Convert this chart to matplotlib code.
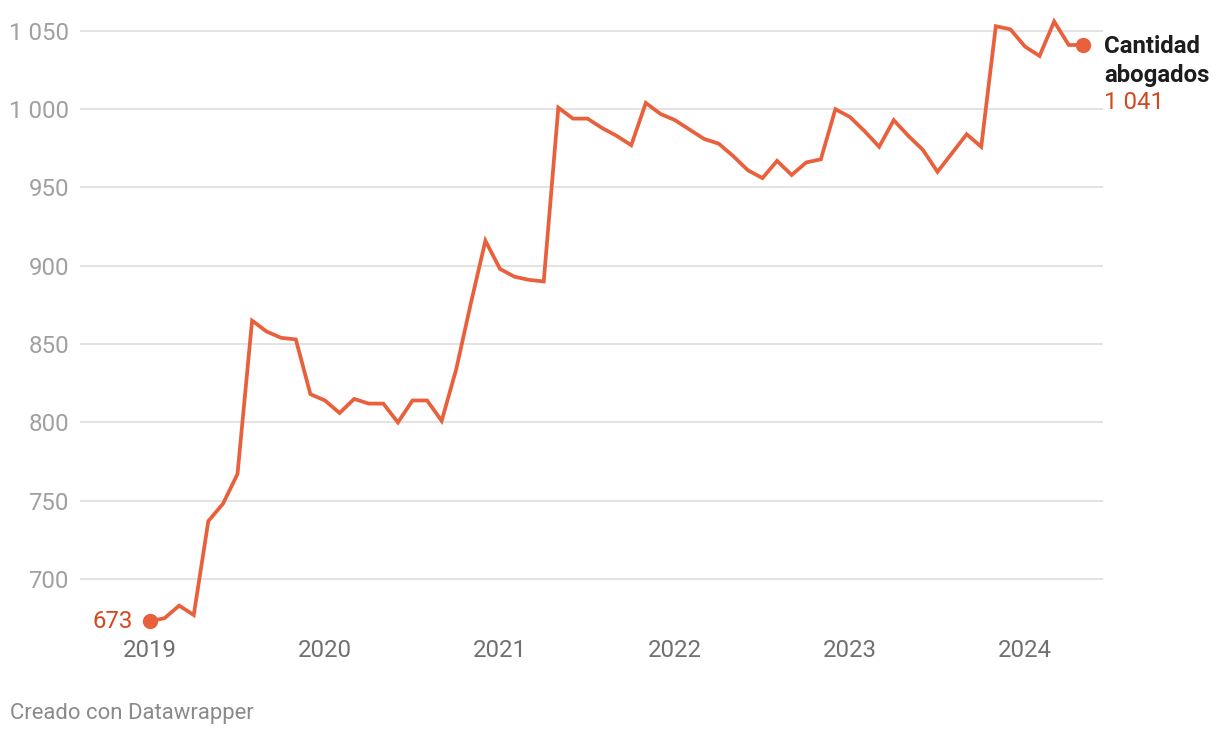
import matplotlib
matplotlib.use("Agg")
import matplotlib.pyplot as plt
import numpy as np
import pandas as pd

# Data: monthly lawyer count, Jan 2019 - May 2024
dates = pd.date_range("2019-01-01", periods=65, freq="MS")
values = [
    673, 675, 683, 677, 737, 748, 767, 865, 858, 854, 853, 818,   # 2019
    814, 806, 815, 812, 812, 800, 814, 814, 801, 834, 876, 916,   # 2020
    898, 893, 891, 890, 1001, 994, 994, 988, 983, 977, 1004, 997, # 2021
    993, 987, 981, 978, 970, 961, 956, 967, 958, 966, 968, 1000,  # 2022
    995, 986, 976, 993, 983, 974, 960, 972, 984, 976, 1053, 1051, # 2023
    1040, 1034, 1056, 1041, 1041,                                  # 2024
]
year_ticks = [2019, 2020, 2021, 2022, 2023, 2024]
y_ticks = [700, 750, 800, 850, 900, 950, 1000, 1050]
series_name = ["Cantidad", "abogados"]

def fmt(v):
    return f"{v:,}".replace(",", " ")

LINE = "#E8603C"
LABEL = "#D2491F"
FONT = ["Roboto", "DejaVu Sans"]
plt.rcParams["font.family"] = FONT

W, H = 1220, 738
fig = plt.figure(figsize=(W / 100, H / 100), dpi=100)
ax_l, ax_r, ax_t, ax_b = 80, 1103, 15, 635
ax = fig.add_axes([ax_l / W, 1 - ax_b / H, (ax_r - ax_l) / W, (ax_b - ax_t) / H])

x = np.arange(len(values))
px_per_month = 14.583
ax.set_xlim((ax_l - 150) / px_per_month, (ax_r - 150) / px_per_month)
px_per_unit = 1.566
ax.set_ylim(700 - (ax_b - 579) / px_per_unit, 700 + (579 - ax_t) / px_per_unit)

for t in y_ticks:
    ax.axhline(t, color="#e0e0e0", lw=1.3, zorder=1)

ax.plot(x, values, color=LINE, lw=2.7, solid_joinstyle="miter", zorder=3)
ax.plot([x[0], x[-1]], [values[0], values[-1]], "o", color=LINE, ms=10, zorder=4)

for s in ax.spines.values():
    s.set_visible(False)
ax.tick_params(length=0)

ax.set_yticks(y_ticks)
ax.set_yticklabels([fmt(v) for v in y_ticks], color="#a0a0a0", fontsize=17.3)
ax.tick_params(axis="y", pad=8)

tick_pos = [(y - 2019) * 12 for y in year_ticks]
ax.set_xticks(tick_pos)
ax.set_xticklabels([str(y) for y in year_ticks], color="#707070", fontsize=17.3)
ax.tick_params(axis="x", pad=3)

ax.annotate(fmt(values[0]), (x[0], values[0]), xytext=(-17, 0), textcoords="offset pixels",
            ha="right", va="center", color=LABEL, fontsize=17.3)

ax.annotate(series_name[0], (x[-1], values[-1]), xytext=(21, -2), textcoords="offset pixels",
            ha="left", va="center", color="#1d1d1d", fontsize=17.3, fontweight="bold",
            annotation_clip=False)
ax.annotate(series_name[1], (x[-1], values[-1]), xytext=(21, -31), textcoords="offset pixels",
            ha="left", va="center", color="#1d1d1d", fontsize=17.3, fontweight="bold",
            annotation_clip=False)
ax.annotate(fmt(values[-1]), (x[-1], values[-1]), xytext=(21, -58), textcoords="offset pixels",
            ha="left", va="center", color=LABEL, fontsize=17.3, annotation_clip=False)

fig.text(10 / W, 1 - 714 / H, "Creado con Datawrapper", color="#8a8a8a", fontsize=15.9,
         ha="left", va="center")

fig.savefig("out.png", dpi=100, facecolor="white")
